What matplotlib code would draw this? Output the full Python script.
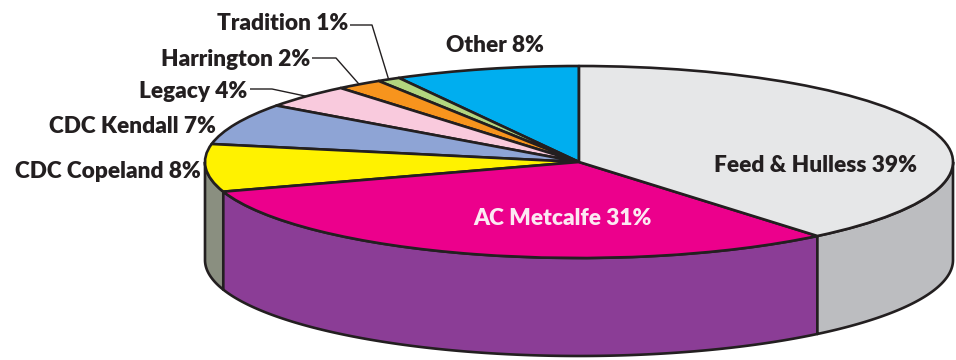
import numpy as np
import matplotlib
matplotlib.use("Agg")
import matplotlib.pyplot as plt

# ---- data ----
categories = ["Other", "Tradition", "Harrington", "Legacy", "CDC Kendall",
              "CDC Copeland", "AC Metcalfe", "Feed & Hulless"]
shares = [8, 1, 2, 4, 7, 8, 31, 39]
top_colors = ["#00AEEF", "#B3D67F", "#F7941D", "#F9CADD", "#8EA4D5",
              "#FFF200", "#EC008C", "#E6E7E8"]
side_colors = ["#0089BD", "#8FAA66", "#C57517", "#C7A1B0", "#7183AA",
               "#8A8F80", "#8B3D96", "#BCBDC0"]

# ---- layout (pixels of the 956x360 image) ----
W, H = 956, 360
CX, CY, RX, RY = 579, 162, 374, 96
DEPTH = 98 / RY
EDGE = "#231F20"
LW = 1.9


def to_data(px, py):
    return (px - CX) / RX, (CY - py) / RY


fig = plt.figure(figsize=(W / 100, H / 100), dpi=100)
ax = fig.add_axes([0, 0, 1, 1])

# top of the pie
wedges, _ = ax.pie(shares, colors=top_colors, startangle=90, counterclock=True,
                   radius=1, center=(0, 0),
                   wedgeprops=dict(edgecolor=EDGE, linewidth=LW, joinstyle="round"))
for w in wedges:
    w.set_zorder(3)

# side walls (front half only: angles 180..360)
angles = 90 + np.cumsum([0] + shares) * 3.6
for i in range(len(shares)):
    a0, a1 = angles[i], angles[i + 1]
    for k in (0, 360):
        lo, hi = max(a0, 180 + k), min(a1, 360 + k)
        if hi <= lo:
            continue
        t = np.radians(np.linspace(lo, hi, 200))
        xt, yt = np.cos(t), np.sin(t)
        xs = np.concatenate([xt, xt[::-1]])
        ys = np.concatenate([yt, yt[::-1] - DEPTH])
        ax.fill(xs, ys, facecolor=side_colors[i], edgecolor=EDGE,
                linewidth=LW, joinstyle="round", zorder=2)

ax.set_aspect("auto")
x0, _ = to_data(0, 0)
x1, _ = to_data(W, 0)
_, y0 = to_data(0, H)
_, y1 = to_data(0, 0)
ax.set_xlim(x0, x1)
ax.set_ylim(y0, y1)
ax.axis("off")

FONT = ["Lato", "DejaVu Sans"]
FS = 16.3


def label(i, px, py, ha="center", color=EDGE):
    x, y = to_data(px, py)
    ax.text(x, y, f"{categories[i]} {shares[i]}%", ha=ha, va="center",
            fontsize=FS, fontweight="heavy", family=FONT, color=color, zorder=5)


label(0, 495, 45)
label(1, 348, 24, ha="right")
label(2, 310, 60, ha="right")
label(3, 247, 92, ha="right")
label(4, 216, 127, ha="right")
label(5, 201, 172, ha="right")
label(6, 562, 219, color="#FCE8F2")
label(7, 815, 166)

# leader lines for the thin slices
leaders = {1: (350, 372, 25), 2: (312, 336, 58), 3: (250, 272, 89)}
for i, (xs_, xe_, ly) in leaders.items():
    mid = np.radians((angles[i] + angles[i + 1]) / 2)
    ex, ey = np.cos(mid), np.sin(mid)
    p0 = to_data(xs_, ly)
    p1 = to_data(xe_, ly)
    ax.plot([p0[0], p1[0], ex], [p0[1], p1[1], ey], color=EDGE,
            linewidth=1.0, zorder=4, solid_capstyle="butt")

fig.savefig("out.png", dpi=100)
